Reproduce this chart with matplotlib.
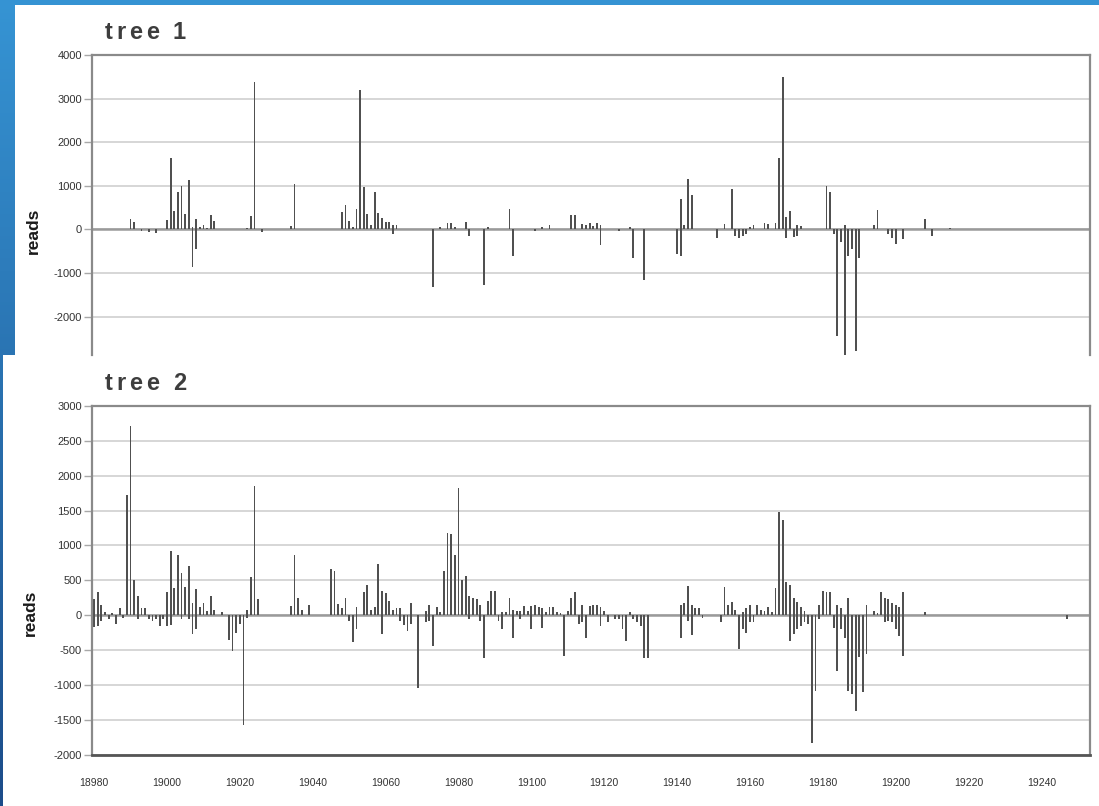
import numpy as np
import matplotlib
matplotlib.use("Agg")
import matplotlib.pyplot as plt
from matplotlib.patches import Rectangle

# ---------------- data ----------------
tree1_up_x = [18990, 18991, 19000, 19001, 19002, 19003, 19004, 19005, 19006, 19007, 19008, 19009,
              19010, 19011, 19012, 19013, 19022, 19023, 19024, 19034, 19035, 19048, 19049, 19050,
              19051, 19052, 19053, 19054, 19055, 19056, 19057, 19058, 19059, 19060, 19061, 19062,
              19063, 19075, 19077, 19078, 19079, 19082, 19088, 19094, 19103, 19105, 19111, 19112,
              19114, 19115, 19116, 19117, 19118, 19119, 19127, 19141, 19142, 19143, 19144, 19153,
              19155, 19160, 19161, 19164, 19165, 19167, 19168, 19169, 19170, 19171, 19173, 19174,
              19181, 19182, 19186, 19194, 19195, 19208, 19215]
tree1_up_y = [250, 180, 220, 1630, 420, 860, 1000, 360, 1140, 60, 230, 60,
              110, 40, 340, 190, 40, 300, 3370, 70, 1050, 400, 560, 190,
              60, 460, 3190, 980, 350, 100, 860, 380, 270, 160, 160, 110,
              100, 60, 150, 150, 50, 170, 60, 470, 60, 100, 330, 340,
              120, 90, 140, 80, 150, 100, 60, 700, 100, 1150, 800, 130,
              930, 60, 100, 150, 130, 150, 1630, 3500, 280, 420, 100, 80,
              1000, 850, 100, 100, 450, 250, 40]
tree1_dn_x = [18993, 18995, 18997, 19007, 19008, 19026, 19062, 19073, 19083, 19087, 19095, 19101,
              19119, 19124, 19128, 19131, 19140, 19141, 19151, 19156, 19157, 19158, 19159, 19170,
              19172, 19173, 19183, 19184, 19185, 19186, 19187, 19188, 19189, 19190, 19198, 19199,
              19200, 19202, 19210]
tree1_dn_y = [-40, -50, -80, -870, -450, -60, -100, -1330, -150, -1280, -615, -30,
              -350, -30, -650, -1160, -560, -620, -200, -150, -200, -150, -100, -200,
              -180, -150, -100, -2450, -300, -3300, -600, -450, -2780, -650, -100, -200,
              -330, -220, -150]

tree2_up_x = [18980, 18981, 18982, 18983, 18985, 18987, 18989, 18990, 18991, 18992, 18993, 18994,
              19000, 19001, 19002, 19003, 19004, 19005, 19006, 19007, 19008, 19009, 19010, 19011,
              19012, 19013, 19015, 19022, 19023, 19024, 19025, 19034, 19035, 19036, 19037, 19039,
              19045, 19046, 19047, 19048, 19049, 19052, 19054, 19055, 19056, 19057, 19058, 19059,
              19060, 19061, 19062, 19063, 19064, 19067, 19071, 19072, 19074, 19075, 19076, 19077,
              19078, 19079, 19080, 19081, 19082, 19083, 19084, 19085, 19086, 19088, 19089, 19090,
              19092, 19093, 19094, 19095, 19096, 19097, 19098, 19099, 19100, 19101, 19102, 19103,
              19104, 19105, 19106, 19107, 19108, 19110, 19111, 19112, 19114, 19116, 19117, 19118,
              19119, 19120, 19127, 19141, 19142, 19143, 19144, 19145, 19146, 19153, 19154, 19155,
              19156, 19158, 19159, 19160, 19162, 19163, 19164, 19165, 19166, 19167, 19168, 19169,
              19170, 19171, 19172, 19173, 19174, 19175, 19179, 19180, 19181, 19182, 19184, 19185,
              19187, 19192, 19194, 19195, 19196, 19197, 19198, 19199, 19200, 19201, 19202, 19208]
tree2_up_y = [230, 330, 140, 40, 30, 100, 1720, 2710, 510, 280, 110, 100,
              330, 920, 390, 860, 610, 400, 710, 180, 380, 120, 170, 60,
              270, 80, 40, 80, 550, 1850, 230, 130, 860, 240, 70, 140,
              660, 630, 160, 100, 240, 120, 330, 440, 80, 120, 740, 350,
              320, 210, 70, 100, 110, 170, 60, 140, 120, 40, 640, 1180,
              1160, 870, 1830, 500, 560, 270, 250, 230, 150, 200, 350, 350,
              40, 40, 250, 80, 60, 60, 130, 60, 130, 140, 120, 100,
              50, 120, 120, 50, 30, 60, 250, 340, 150, 130, 150, 150,
              120, 60, 40, 150, 180, 420, 150, 100, 100, 400, 150, 190,
              70, 40, 100, 150, 150, 80, 60, 120, 50, 390, 1480, 1370,
              480, 440, 250, 190, 120, 60, 150, 350, 330, 330, 150, 100,
              250, 150, 60, 30, 330, 250, 230, 170, 150, 120, 330, 40]
tree2_dn_x = [18980, 18981, 18982, 18984, 18986, 18988, 18992, 18995, 18996, 18997, 18998, 18999,
              19000, 19001, 19004, 19006, 19007, 19008, 19017, 19018, 19019, 19020, 19021, 19022,
              19050, 19051, 19052, 19059, 19064, 19065, 19066, 19067, 19069, 19071, 19072, 19073,
              19083, 19086, 19087, 19091, 19092, 19095, 19097, 19100, 19103, 19109, 19113, 19114,
              19115, 19119, 19121, 19123, 19124, 19125, 19126, 19128, 19129, 19130, 19131, 19132,
              19141, 19143, 19144, 19147, 19152, 19157, 19158, 19159, 19160, 19161, 19171, 19172,
              19173, 19174, 19175, 19176, 19177, 19178, 19179, 19183, 19184, 19185, 19186, 19187,
              19188, 19189, 19190, 19191, 19192, 19197, 19198, 19199, 19200, 19201, 19202, 19247]
tree2_dn_y = [-170, -150, -80, -60, -120, -40, -60, -60, -80, -60, -160, -60,
              -160, -140, -60, -60, -270, -200, -350, -510, -250, -120, -1580, -40,
              -90, -380, -200, -270, -80, -140, -230, -130, -1050, -100, -80, -440,
              -50, -80, -620, -80, -200, -320, -60, -200, -180, -580, -130, -100,
              -330, -150, -100, -60, -60, -200, -370, -50, -100, -150, -620, -620,
              -330, -80, -280, -40, -100, -480, -200, -250, -100, -100, -370, -270,
              -200, -150, -100, -130, -1830, -1080, -60, -180, -800, -200, -330, -1080,
              -1130, -1370, -600, -1100, -550, -100, -80, -100, -200, -300, -580, -50]

x_ticks = list(range(18980, 19241, 20))
tree1_yticks = [-2000, -1000, 0, 1000, 2000, 3000, 4000]
tree2_yticks = [-2000, -1500, -1000, -500, 0, 500, 1000, 1500, 2000, 2500, 3000]
titles = ["tree 1", "tree 2"]
ylabel = "reads"

# ---------------- figure ----------------
W, H = 1099, 806
DPI = 100
fig = plt.figure(figsize=(W / DPI, H / DPI), dpi=DPI)
plt.rcParams['font.family'] = ['Liberation Sans', 'DejaVu Sans']

# background gradient
bg = fig.add_axes([0, 0, 1, 1], zorder=-10)
grad = np.linspace(0, 1, 256).reshape(-1, 1)
top_c = np.array([0.21, 0.58, 0.83])
bot_c = np.array([0.11, 0.30, 0.54])
img = top_c[None, None, :] * (1 - grad[:, :, None]) + bot_c[None, None, :] * grad[:, :, None]
bg.imshow(img, aspect='auto', extent=[0, 1, 0, 1], origin='upper')
bg.set_xlim(0, 1); bg.set_ylim(0, 1)
bg.axis('off')
# white panels
bg.add_patch(Rectangle((15 / W, 1 - 355 / H), 1, (355 - 5) / H, facecolor='white', edgecolor='none'))
bg.add_patch(Rectangle((3 / W, 0), 1, 1 - 355 / H, facecolor='white', edgecolor='none', zorder=3))

x_left, x_right = 92.3, 1089.5
xlim = (18979.5, 19253.2)
BAR_C = '#505050'
BAR_W = 0.5

def style_axes(ax):
    ax.set_xlim(*xlim)
    ax.grid(axis='y', color='#cfcfcf', linewidth=1.2, zorder=0)
    ax.set_axisbelow(True)
    for s in ['left', 'top', 'right']:
        ax.spines[s].set_color('#8a8a8a')
        ax.spines[s].set_linewidth(1.6)
    ax.tick_params(axis='y', length=6, width=1, color='#a8a8a8', pad=1.5,
                   labelsize=8, labelcolor='#333333')
    ax.axhline(0, color='#9a9a9a', linewidth=1.8, zorder=1)

# top panel
ax1 = fig.add_axes([x_left / W, 1 - 355 / H, (x_right - x_left) / W, (355 - 55) / H], zorder=1)
ax1.bar(tree1_up_x, tree1_up_y, width=BAR_W, color=BAR_C, linewidth=0, zorder=2)
ax1.bar(tree1_dn_x, tree1_dn_y, width=BAR_W, color=BAR_C, linewidth=0, zorder=2)
ax1.set_ylim(-2880, 4000)
ax1.set_yticks(tree1_yticks)
ax1.set_yticklabels([str(v) for v in tree1_yticks])
ax1.set_xticks([])
style_axes(ax1)
ax1.spines['bottom'].set_visible(False)

# bottom panel
ax2 = fig.add_axes([x_left / W, 1 - 754.7 / H, (x_right - x_left) / W, (754.7 - 406) / H], zorder=5)
ax2.bar(tree2_up_x, tree2_up_y, width=BAR_W, color=BAR_C, linewidth=0, zorder=2)
ax2.bar(tree2_dn_x, tree2_dn_y, width=BAR_W, color=BAR_C, linewidth=0, zorder=2)
ax2.set_ylim(-2000, 3000)
ax2.set_yticks(tree2_yticks)
ax2.set_yticklabels([str(v) for v in tree2_yticks])
ax2.set_xticks(x_ticks)
ax2.set_xticklabels([str(v) for v in x_ticks])
style_axes(ax2)
ax2.spines['bottom'].set_color('#555555')
ax2.spines['bottom'].set_linewidth(2)
ax2.tick_params(axis='x', length=0, pad=17, labelsize=7.5, labelcolor='#333333')
ax2.set_facecolor('none')
ax1.set_facecolor('none')

# y labels
fig.text(33 / W, 1 - 231 / H, ylabel, rotation=90, ha='center', va='center',
         fontsize=12.5, fontweight='bold', color='#1a1a1a')
fig.text(30 / W, 1 - 613 / H, ylabel, rotation=90, ha='center', va='center',
         fontsize=12.5, fontweight='bold', color='#1a1a1a')

# letter-spaced titles
renderer = fig.canvas.get_renderer()

def spaced_text(x_px, y_px, s, spacing_px, fontsize):
    x = x_px
    for ch in s:
        if ch == ' ':
            x += fontsize * 0.278 * DPI / 72 + spacing_px
            continue
        t = fig.text(x / W, 1 - y_px / H, ch, ha='left', va='baseline', fontsize=fontsize,
                     fontweight='bold', color='#3d3d3d', zorder=10)
        bb = t.get_window_extent(renderer)
        x += bb.width + spacing_px

spaced_text(105, 39, titles[0], 3.6, 17)
spaced_text(105, 390, titles[1], 3.6, 17)

fig.savefig("out.png", dpi=DPI)
